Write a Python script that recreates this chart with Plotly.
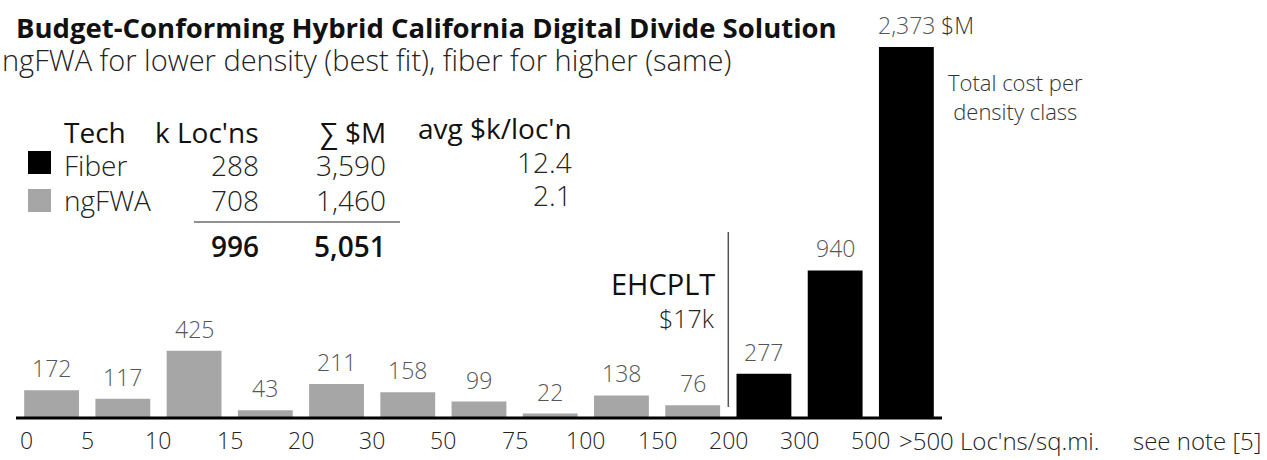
import plotly.graph_objects as go

# ---- data ----
bin_edges = ["0", "5", "10", "15", "20", "30", "50", "75", "100", "150", "200", "300", "500"]
cost_musd = [172, 117, 425, 43, 211, 158, 99, 22, 138, 76, 277, 940, 2373]
tech_by_bin = ["ngFWA"] * 10 + ["Fiber"] * 3

table_tech = ["Fiber", "ngFWA"]
table_kloc = [288, 708]
table_sum_m = [3590, 1460]
table_avg_k = [12.4, 2.1]
total_kloc = 996
total_sum_m = 5051

FONT = "Open Sans"
GREY = "#a6a6a6"
colors = {"Fiber": "#000000", "ngFWA": GREY}

W, H = 1267, 460
L, R, T, B = 16, 325, 47, 43
PW, PH = W - L - R, H - T - B


def px(x):
    return (x - L) / PW


def py(y):
    return (H - B - y) / PH


fig = go.Figure()
for tech in ["ngFWA", "Fiber"]:
    xs = [i for i, t in enumerate(tech_by_bin) if t == tech]
    ys = [cost_musd[i] for i in xs]
    fig.add_trace(go.Bar(x=xs, y=ys, marker=dict(color=colors[tech], line=dict(width=0)),
                         name=tech, showlegend=False, hoverinfo="skip"))

ann = []


def text(x, y, s, size=23, color="#222", weight=300, xanchor="left", yanchor="middle",
         xref="paper", yref="paper", yshift=0):
    ann.append(dict(x=x, y=y, xref=xref, yref=yref, text=s, showarrow=False,
                    xanchor=xanchor, yanchor=yanchor, yshift=yshift,
                    font=dict(family=FONT, size=size, color=color, weight=weight)))


# value labels
for i, v in enumerate(cost_musd):
    text(i, v, f"{v:,}", size=23, color="#555", xanchor="center", yanchor="bottom",
         xref="x", yref="y", yshift=4)

# x boundary labels
for i, lab in enumerate(bin_edges):
    if i == 0:
        text(px(18), py(440), lab, xanchor="left")
    else:
        text(i - 0.5, py(440), lab, xanchor="center", xref="x")
text(px(897), py(440), ">500 Loc'ns/sq.mi.", size=24, xanchor="left")
text(px(1263), py(440), "see note [5]", size=24, xanchor="right")

# title
text(px(14), py(27), "Budget-Conforming Hybrid California Digital Divide Solution",
     size=27.5, color="#111", weight=700)
text(px(0), py(60), "ngFWA for lower density (best fit), fiber for higher (same)",
     size=29, color="#222", weight=300)

# table
HS = 28
text(px(62), py(132), "Tech", size=HS, color="#111", weight=400)
text(px(261), py(132), "k Loc'ns", size=HS, color="#111", weight=400, xanchor="right")
text(px(388), py(132), "∑ $M", size=HS, color="#111", weight=400, xanchor="right")
text(px(574), py(128), "avg $k/loc'n", size=HS, color="#111", weight=400, xanchor="right")
row_y = [165, 200]
avg_y = [162, 195]
for j, t in enumerate(table_tech):
    text(px(62), py(row_y[j]), t, size=HS, color="#222")
    text(px(261), py(row_y[j]), f"{table_kloc[j]:,}", size=HS, color="#222", xanchor="right")
    text(px(388), py(row_y[j]), f"{table_sum_m[j]:,}", size=HS, color="#222", xanchor="right")
    text(px(574), py(avg_y[j]), f"{table_avg_k[j]:.1f}", size=HS, color="#222", xanchor="right")
text(px(261), py(246), f"{total_kloc:,}", size=HS, color="#111", weight=600, xanchor="right")
text(px(388), py(246), f"{total_sum_m:,}", size=HS, color="#111", weight=600, xanchor="right")

# EHCPLT
text(px(717), py(283), "EHCPLT", size=29, color="#111", weight=400, xanchor="right")
text(px(717), py(318), "$17k", size=25, color="#222", weight=300, xanchor="right")

# right notes
text(px(939), py(25), "$M", size=23, color="#333", weight=300)
text(px(946), py(96), "Total cost per<br>density class", size=22, color="#333", weight=300)

shapes = [
    # baseline
    dict(type="line", xref="x", yref="paper", x0=-0.5, x1=12.5, y0=py(418), y1=py(418),
         line=dict(color="#000", width=3)),
    # legend squares
    dict(type="rect", xref="paper", yref="paper", x0=px(28), x1=px(51), y0=py(151), y1=py(174),
         fillcolor=colors["Fiber"], line=dict(width=0)),
    dict(type="rect", xref="paper", yref="paper", x0=px(28), x1=px(51), y0=py(189), y1=py(212),
         fillcolor=colors["ngFWA"], line=dict(width=0)),
    # table rule
    dict(type="line", xref="paper", yref="paper", x0=px(194), x1=px(400), y0=py(222), y1=py(222),
         line=dict(color="#222", width=1)),
    # EHCPLT divider
    dict(type="line", xref="x", yref="paper", x0=9.5, x1=9.5, y0=py(407), y1=py(232),
         line=dict(color="#555", width=1.5)),
]

fig.update_layout(
    width=W, height=H,
    margin=dict(l=L, r=R, t=T, b=B),
    paper_bgcolor="white", plot_bgcolor="white",
    bargap=0.23,
    xaxis=dict(range=[-0.5, 12.5], visible=False),
    yaxis=dict(range=[0, 2373], visible=False),
    annotations=ann, shapes=shapes,
)
fig.write_html("out.html", config={"displayModeBar": False},
               post_script="document.body.style.margin='0';")
